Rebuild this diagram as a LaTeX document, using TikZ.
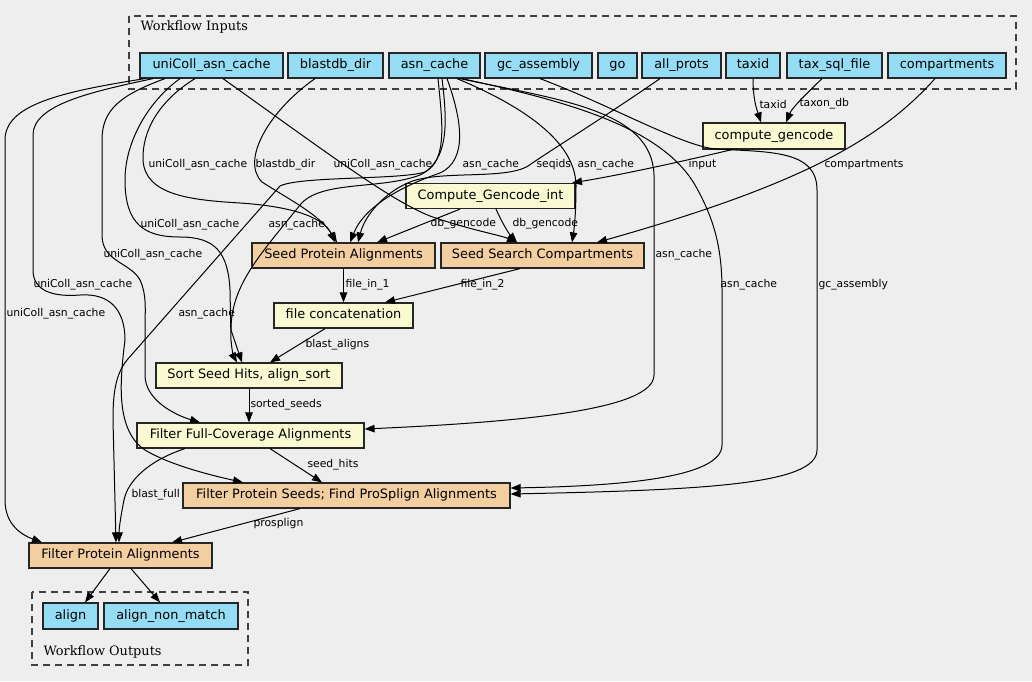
\documentclass[tikz,border=0pt]{standalone}
\usepackage{fontspec}
\setmainfont{DejaVu Sans}
\newfontfamily\clusterfont{DejaVu Serif}
\usetikzlibrary{arrows.meta,calc}

\definecolor{bgGrey}{HTML}{EEEEEE}
\definecolor{ioBlue}{HTML}{94DDF4}
\definecolor{toolYellow}{HTML}{FAFAD2}
\definecolor{subTan}{HTML}{F3CEA1}

\tikzset{
  box/.style={draw=black!85,line width=1.2pt,minimum height=25pt,inner xsep=2pt,inner ysep=0pt,text height=9.6pt,text depth=2.9pt,font=\fontsize{12.9}{15}\selectfont},
  io/.style={box,fill=ioBlue},
  tool/.style={box,fill=toolYellow},
  sub/.style={box,fill=subTan},
  lbl/.style={anchor=west,inner sep=0pt,font=\fontsize{10.8}{12}\selectfont},
  cluster/.style={draw=black!75,line width=1.2pt,dash pattern=on 7pt off 5pt},
  ctitle/.style={anchor=west,inner sep=0pt,font=\clusterfont\fontsize{12.9}{15}\selectfont}
}

\begin{document}
\begin{tikzpicture}[x=1pt,y=-1pt,>={Triangle[length=10pt,width=7.5pt]},line width=1pt]
        \fill[bgGrey](0,0)rectangle(1032,681);
        \useasboundingbox(0,0)rectangle(1032,681);
        % clusters
        \draw[cluster](129,16)rectangle(1016,89);
        \node[ctitle](inTitle)at(140,27){Workflow Inputs};
        \draw[cluster](32,592)rectangle(248,665);
        \node[ctitle](outTitle)at(43,652){Workflow Outputs};
        % inputs
        \node[io,minimum width=143pt](uni)at(211.5,65.5){uniColl\_asn\_cache};
        \node[io,minimum width=95pt](blastdb)at(335.5,65.5){blastdb\_dir};
        \node[io,minimum width=91pt](asn)at(434.5,65.5){asn\_cache};
        \node[io,minimum width=107pt](gc)at(538.5,65.5){gc\_assembly};
        \node[io,minimum width=39pt](go)at(617.5,65.5){go};
        \node[io,minimum width=79pt](allp)at(681.5,65.5){all\_prots};
        \node[io,minimum width=54pt](taxid)at(753,65.5){taxid};
        \node[io,minimum width=95pt](taxsql)at(834.5,65.5){tax\_sql\_file};
        \node[io,minimum width=118pt](comp)at(947,65.5){compartments};
        % steps
        \node[tool,minimum width=142pt,minimum height=26pt](cgc)at(774,136){compute\_gencode};
        \node[tool,minimum width=169pt](cgi)at(490.5,196){Compute\_Gencode\_int};
        \node[sub,minimum width=183pt](spa)at(343.5,255.5){Seed Protein Alignments};
        \node[sub,minimum width=203pt](ssc)at(542.5,255.5){Seed Search Compartments};
        \node[tool,minimum width=139pt](fcat)at(343.5,315.5){file concatenation};
        \node[tool,minimum width=186pt](sort)at(249,375.5){Sort Seed Hits, align\_sort};
        \node[tool,minimum width=227pt](ffc)at(250.5,435.5){Filter Full-Coverage Alignments};
        \node[sub,minimum width=327pt](fps)at(346.5,495.5){Filter Protein Seeds; Find ProSplign Alignments};
        \node[sub,minimum width=183pt](fpa)at(120.5,555.5){Filter Protein Alignments};
        % outputs
        \node[io,minimum width=55pt,minimum height=26pt](align)at(70.5,616){align};
        \node[io,minimum width=134pt,minimum height=26pt](anm)at(171,616){align\_non\_match};
        % uniColl_asn_cache
        \draw[->]([xshift=-66.5pt]uni.south)..controls(60,92)and(5,105)..(5,140)--(5,500)..controls(5,525)and(22,535)..([xshift=-78.5pt]fpa.north);
        \draw[->]([xshift=-58.5pt]uni.south)..controls(90,92)and(33,105)..(33,135)--(33,270)..controls(33,292)and(55,297)..(80,295)..controls(110,293)and(125,310)..(125,340)..controls(120,380)and(115,430)..(145,450)..controls(170,465)and(210,475)..([xshift=-103.5pt]fps.north);
        \draw[->]([xshift=-46.5pt]uni.south)..controls(120,95)and(102,110)..(102,140)--(102,235)..controls(102,262)and(130,262)..(140,280)..controls(147,295)and(145,310)..(145,330)--(145,375)..controls(145,400)and(175,415)..([xshift=-50.5pt]ffc.north);
        \draw[->]([xshift=-31.5pt]uni.south)..controls(150,100)and(125,140)..(125,180)..controls(125,225)and(145,237)..(180,237)..controls(215,237)and(228,252)..(230,290)--(231,340)..controls(232,352)and(234,357)..([xshift=-12pt]sort.north);
        \draw[->]([xshift=-16.5pt]uni.south)..controls(160,100)and(142,130)..(143,160)..controls(145,195)and(190,200)..(240,203)..controls(300,207)and(325,220)..([xshift=-8.5pt]spa.north);
        \draw[->]([xshift=11.5pt]uni.south)..controls(330,155)and(390,200)..(430,216)..controls(470,230)and(500,235)..([xshift=-25.5pt]ssc.north);
        % blastdb_dir
        \draw[->]([xshift=-20.5pt]blastdb.south)..controls(270,110)and(240,160)..(262,182)..controls(290,200)and(320,215)..([xshift=-6.5pt]spa.north);
        % asn_cache
        \draw[->]([xshift=3.5pt]asn.south)..controls(442,120)and(448,160)..(425,172)..controls(400,180)and(300,176)..(280,186)--(127,360)..controls(115,375)and(113,395)..(113,420)--([xshift=-4.5pt]fpa.north);
        \draw[->]([xshift=7.5pt]asn.south)..controls(447,120)and(450,160)..(420,175)..controls(380,190)and(320,180)..(300,205)..controls(260,255)and(231,285)..(231,330)--([xshift=-7pt]sort.north);
        \draw[->]([xshift=12.5pt]asn.south)..controls(462,120)and(468,160)..(440,173)..controls(405,185)and(365,205)..([xshift=6.5pt]spa.north);
        \draw[->]([xshift=22.5pt]asn.south)..controls(520,105)and(575,140)..(576,185)..controls(576,215)and(574,230)..([xshift=29.5pt]ssc.north);
        \draw[->]([xshift=25.5pt]asn.south)..controls(560,100)and(652,110)..(654,175)--(654,375)..controls(654,410)and(520,422)..([yshift=6.5pt]ffc.east);
        \draw[->]([xshift=27.5pt]asn.south)..controls(560,100)and(660,125)..(695,185)..controls(715,220)and(722,250)..(722,290)--(722,445)..controls(722,478)and(620,486)..([yshift=7.5pt]fps.east);
        % other inputs
        \draw[->]([xshift=1.5pt]gc.south)..controls(610,105)and(680,145)..(715,149)..controls(770,152)and(817,150)..(817,190)--(817,450)..controls(817,485)and(700,490)..([yshift=1.5pt]fps.east);
        \draw[->]([xshift=-21.5pt]allp.south)..controls(600,120)and(548,152)..(528,166)..controls(505,180)and(440,170)..(410,182)..controls(385,192)and(365,215)..([xshift=14.5pt]spa.north);
        \draw[->](taxid.south)..controls(753,100)and(757,110)..([xshift=-13pt]cgc.north);
        \draw[->]([xshift=-12.5pt]taxsql.south)..controls(805,95)and(792,108)..([xshift=12pt]cgc.north);
        \draw[->]([xshift=-12pt]comp.south)..controls(880,140)and(800,185)..([xshift=54.5pt]ssc.north);
        % steps
        \draw[->]([xshift=-42pt]cgc.south)..controls(680,162)and(620,175)..([xshift=81.5pt]cgi.north);
        \draw[->]([xshift=-30.5pt]cgi.south)--([xshift=33.5pt]spa.north);
        \draw[->]([xshift=5.5pt]cgi.south)..controls(503,225)and(510,235)..([xshift=-25.5pt]ssc.north);
        \draw[->](spa.south)--(fcat.north);
        \draw[->]([xshift=-22.5pt]ssc.south)--([xshift=41.5pt]fcat.north);
        \draw[->]([xshift=-18.5pt]fcat.south)--([xshift=21pt]sort.north);
        \draw[->](sort.south)--(sort.south|-ffc.north);
        \draw[->]([xshift=19.5pt]ffc.south)--([xshift=-24.5pt]fps.north);
        \draw[->]([xshift=-65.5pt]ffc.south)..controls(150,460)and(128,480)..(124,500)..controls(120,520)and(119,530)..([xshift=-1.5pt]fpa.north);
        \draw[->]([xshift=-46.5pt]fps.south)--([xshift=51.5pt]fpa.north);
        \draw[->]([xshift=-10.5pt]fpa.south)--([xshift=14.5pt]align.north);
        \draw[->]([xshift=10.5pt]fpa.south)--([xshift=-11pt]anm.north);
        % labels
        \node[lbl](lTaxid)at(759,104){taxid};
        \node[lbl](lTaxon)at(799,104){taxon\_db};
        \node[lbl](lUniSpa)at(148,165){uniColl\_asn\_cache};
        \node[lbl](lBlast)at(255,165){blastdb\_dir};
        \node[lbl](lUniSsc)at(333,165){uniColl\_asn\_cache};
        \node[lbl](lAsnSpa)at(462,165){asn\_cache};
        \node[lbl](lSeqids)at(536,165){seqids};
        \node[lbl](lAsnSsc)at(577,165){asn\_cache};
        \node[lbl](lInput)at(688,165){input};
        \node[lbl](lComp)at(824,165){compartments};
        \node[lbl](lUniSort)at(140,225){uniColl\_asn\_cache};
        \node[lbl](lAsnSort)at(268,225){asn\_cache};
        \node[lbl](lGenA)at(430,224){db\_gencode};
        \node[lbl](lGenB)at(512,224){db\_gencode};
        \node[lbl](lUniFfc)at(103,255){uniColl\_asn\_cache};
        \node[lbl](lAsnFfc)at(655,255){asn\_cache};
        \node[lbl](lUniFps)at(33,285){uniColl\_asn\_cache};
        \node[lbl](lFileA)at(345,285){file\_in\_1};
        \node[lbl](lFileB)at(460,285){file\_in\_2};
        \node[lbl](lAsnFps)at(720,285){asn\_cache};
        \node[lbl](lGc)at(818,285){gc\_assembly};
        \node[lbl](lUniFpa)at(6,314){uniColl\_asn\_cache};
        \node[lbl](lAsnFpa)at(178,314){asn\_cache};
        \node[lbl](lBlastAl)at(305,345){blast\_aligns};
        \node[lbl](lSorted)at(250,405){sorted\_seeds};
        \node[lbl](lSeedHits)at(307,465){seed\_hits};
        \node[lbl](lBlastFull)at(131,495){blast\_full};
        \node[lbl](lProsplign)at(253,524){prosplign};
\end{tikzpicture}
\end{document}
